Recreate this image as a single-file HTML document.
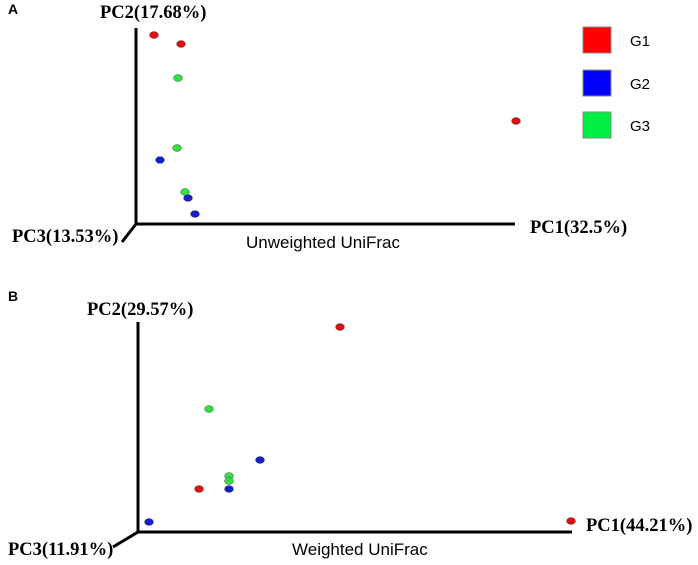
<!DOCTYPE html>
<html><head><meta charset="utf-8"><style>
body{margin:0;background:#fff;width:698px;height:565px;overflow:hidden}
svg{display:block}
.t{font-family:"Liberation Serif",serif;font-weight:bold;font-size:18.5px}
.s{font-family:"Liberation Sans",sans-serif}
</style></head><body>
<svg id="c" width="698" height="565">
<text x="8" y="14" class="s" font-weight="bold" font-size="14">A</text>
<text x="100" y="18" class="t">PC2(17.68%)</text>
<text x="12" y="242" class="t">PC3(13.53%)</text>
<text x="530" y="233" class="t">PC1(32.5%)</text>
<text x="246" y="248" class="s" font-size="17">Unweighted UniFrac</text>
<text x="8" y="301" class="s" font-weight="bold" font-size="14">B</text>
<text x="87" y="315" class="t">PC2(29.57%)</text>
<text x="8" y="555" class="t">PC3(11.91%)</text>
<text x="586" y="531" class="t">PC1(44.21%)</text>
<text x="292" y="555" class="s" font-size="17">Weighted UniFrac</text>
<g>
<rect x="583" y="27" width="28" height="26" fill="#ff0000" stroke="#888"/>
<text x="630" y="46" class="s" font-size="15">G1</text>
<rect x="583" y="70" width="28" height="26" fill="#0000ff" stroke="#888"/>
<text x="630" y="89" class="s" font-size="15">G2</text>
<rect x="583" y="112" width="28" height="26" fill="#00ee44" stroke="#888"/>
<text x="630" y="131" class="s" font-size="15">G3</text>
</g>
</svg>
<script>
const groups=["G1","G2","G3"];
const colors={G1:"#dd1111",G2:"#1122cc",G3:"#33dd44"};
// Panel A values (PC1, PC2 projected units)
const aGroup=["G1","G1","G1","G3","G3","G3","G2","G2","G2"];
const aPC1=[18,45,380,42,41,49,24,52,59];
const aPC2=[189,180,103,146,76,32,64,26,10];
// Panel B values
const bGroup=["G1","G1","G1","G3","G3","G3","G2","G2","G2"];
const bPC1=[202,61,433,71,91,91,122,91,11];
const bPC2=[205,43,11,123,56,51,72,43,10];
const svg=document.getElementById('c');
const NS="http://www.w3.org/2000/svg";
function mk(t,a){const e=document.createElementNS(NS,t);for(const k in a)e.setAttribute(k,a[k]);svg.appendChild(e);return e;}
function panel(ox,oy,top,right,dx,dy,G,X,Y,p){
  const sx=v=>ox+v, sy=v=>oy-v;
  const ax=mk('polyline',{points:`${ox},${top} ${ox},${oy} ${right},${oy}`,fill:'none',stroke:'#000','stroke-width':3});
  
  
  const d=mk('line',{x1:ox,y1:oy,x2:dx,y2:dy,stroke:'#000','stroke-width':3});
  
  
  X.forEach((v,i)=>{
    const e=mk('ellipse',{cx:sx(v),cy:sy(Y[i]),rx:4.5,ry:3.5,fill:colors[G[i]],stroke:'#555','stroke-width':0.5});
    
    
  });
}
panel(136,224,28,515,122,242,aGroup,aPC1,aPC2,'a');
panel(138,532,322,572,113,547,bGroup,bPC1,bPC2,'b');
</script>
</body></html>
